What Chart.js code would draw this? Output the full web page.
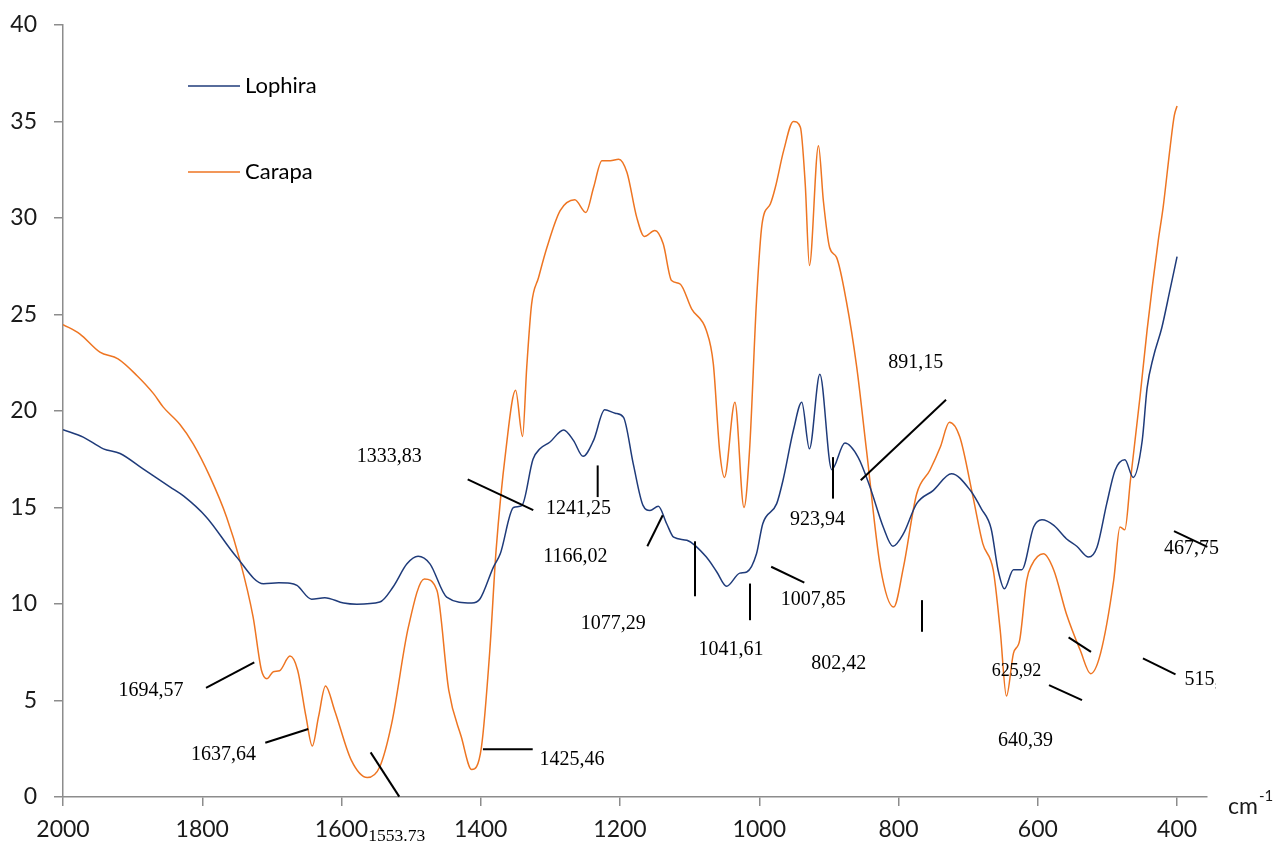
<!DOCTYPE html>
<html>
<head>
<meta charset="utf-8">
<script src="https://cdn.jsdelivr.net/npm/chart.js@4"></script>
<style>
html,body{margin:0;padding:0;background:#fff;}
#wrap{width:1279px;height:843px;}
</style>
</head>
<body>
<div id="wrap"><canvas id="c" width="1279" height="843"></canvas></div>
<script>
// ---- data (wavenumber in cm-1, values) ----
const seriesNames = ['Lophira', 'Carapa'];

const lophiraWn = [2000,1971,1942,1918,1885,1846,1827,1794,1751,1712,1690,1674,1664,1643,1624,1597,1578,1545,1526,1506,1490,1473,1449,1413,1401,1382,1372,1353,1341,1325,1315,1301,1281,1267,1253,1238,1222,1207,1195,1181,1167,1157,1145,1133,1123,1104,1076,1061,1047,1028,1018,1004,995,975,966,951,939,928,913,896,877,858,841,822,808,793,774,750,724,697,681,667,657,648,635,623,606,594,577,559,544,527,515,501,489,475,463,450,443,434,422,410,400];
const lophiraVal = [19.03,18.65,18.04,17.8,17.0,16.06,15.6,14.5,12.45,11.05,11.1,11.08,10.96,10.25,10.33,10.05,9.99,10.1,10.88,12.08,12.47,12.08,10.36,10.05,10.27,11.9,12.6,15.0,15.1,17.5,18.04,18.38,19.02,18.48,17.65,18.48,20.06,19.88,19.67,17.26,15.11,14.85,15.06,14.16,13.46,13.3,12.43,11.66,10.92,11.6,11.66,12.6,14.16,15.2,16.4,19.0,20.45,18.04,21.9,16.96,18.34,17.6,16.06,13.99,12.99,13.64,15.2,15.89,16.75,15.89,14.93,13.9,11.75,10.79,11.78,11.78,13.99,14.36,14.07,13.38,12.99,12.43,12.94,15.2,16.93,17.47,16.56,18.48,21.2,22.8,24.3,26.3,28.0];

const carapaWn = [2000,1976,1947,1921,1894,1870,1856,1832,1813,1789,1765,1746,1727,1715,1707,1698,1689,1674,1663,1651,1642,1633,1623,1610,1586,1563,1545,1528,1504,1481,1463,1446,1428,1413,1399,1387,1378,1364,1350,1340,1334,1327,1317,1305,1286,1265,1249,1238,1226,1214,1202,1190,1176,1165,1150,1138,1126,1114,1097,1076,1066,1057,1050,1035,1022,1014,1004,996,984,977,965,951,941,934,928,915,908,899,889,875,860,846,826,807,793,774,755,740,727,712,693,679,664,654,645,635,626,616,609,592,577,559,539,524,510,491,482,475,467,453,443,427,420,410,404,400];
const carapaVal = [24.48,24.0,23.05,22.7,21.84,20.9,20.2,19.3,18.3,16.6,14.5,12.27,9.33,6.57,6.13,6.49,6.54,7.3,6.57,4.16,2.64,4.16,5.75,4.5,1.91,1.01,1.57,3.8,8.8,11.3,10.71,5.54,3.12,1.42,2.6,7.6,12.78,17.96,21.07,18.68,22.26,25.54,26.92,28.47,30.38,30.95,30.29,31.58,32.97,32.97,33.05,32.36,30.03,29.04,29.35,28.66,26.76,26.59,25.28,24.17,22.44,17.96,16.56,20.45,15.0,17.96,25.7,29.7,30.74,31.58,33.49,35.0,34.7,31.75,27.54,33.75,30.9,28.47,27.96,25.7,22.26,17.96,11.9,9.84,11.9,15.7,16.93,18.13,19.42,18.65,15.54,13.13,11.75,8.64,5.23,7.44,8.13,11.23,12.0,12.6,11.75,9.5,7.6,6.39,7.43,11.23,13.99,13.85,16.4,20.8,24.2,28.83,30.55,33.65,35.3,35.8];

const xTickValues = [2000,1800,1600,1400,1200,1000,800,600,400];
const yTickStep = 5;

// peak annotations (text, anchor in data units: wavenumber, value)
const peakLabels = ['1333,83','1241,25','1166,02','1077,29','1041,61','1007,85','923,94','891,15','802,42','625,92','640,39','515,','467,75','1694,57','1637,64','1425,46','1553.73'];
const peakLabelWn = [1578.2,1306.3,1310.2,1256.5,1087.4,969.1,955.9,814.7,925.2,666.1,657.2,389.3,418.7,1920.4,1816.2,1315.5,1561.5];
const peakLabelVal = [17.61,14.92,12.44,8.99,7.61,10.2,14.34,22.5,6.92,6.54,2.90,6.06,12.87,5.50,2.19,1.95,-2.02];
// leader lines (from wn1,val1 to wn2,val2)
const leaderWn1 = [1418.8,1232.1,1160.8,1092.3,1013.3,982.9,894.1,854.3,766.3,555.8,583.9,449.0,404.4,1794.6,1709.5,1396.9,1558.2];
const leaderVal1 = [16.46,17.18,12.99,13.25,11.06,11.93,17.61,16.41,10.2,8.27,5.80,7.18,13.78,5.66,2.81,2.47,2.31];
const leaderWn2 = [1324.6,1232.1,1138.7,1092.3,1013.3,935.3,894.1,731.8,766.3,523.6,536.5,402.2,356.5,1725.3,1647.8,1325.4,1517.1];
const leaderVal2 = [14.86,15.54,14.6,10.40,9.16,11.11,15.46,20.58,8.56,7.52,5.02,6.35,12.96,6.97,3.52,2.47,0.02];

// ---- styling ----
const colors = ['#1f3b7a', '#ee7522'];
const axisGray = '#8c8c8c';

const annotPlugin = {
  id: 'annot',
  afterDatasetsDraw(chart) {
    const {ctx, chartArea, scales} = chart;
    const xs = scales.x, ys = scales.y;
    ctx.save();
    // leaders
    ctx.strokeStyle = '#000';
    ctx.lineWidth = 2;
    for (let i = 0; i < leaderWn1.length; i++) {
      ctx.beginPath();
      ctx.moveTo(xs.getPixelForValue(leaderWn1[i]), ys.getPixelForValue(leaderVal1[i]));
      ctx.lineTo(xs.getPixelForValue(leaderWn2[i]), ys.getPixelForValue(leaderVal2[i]));
      ctx.stroke();
    }
    // labels
    ctx.fillStyle = '#000';
    ctx.textAlign = 'left';
    ctx.textBaseline = 'middle';
    for (let i = 0; i < peakLabels.length; i++) {
      const t = peakLabels[i];
      let size = 20;
      if (t === '625,92') size = 18;
      if (t === '1553.73') size = 17.5;
      ctx.font = size + 'px "Liberation Serif", "Times New Roman", serif';
      const px = xs.getPixelForValue(peakLabelWn[i]);
      const py = ys.getPixelForValue(peakLabelVal[i]);
      if (t === '515,') {
        ctx.save();
        ctx.beginPath();
        ctx.rect(px - 5, py - 20, (chartArea.right + 9) - (px - 5), 40);
        ctx.clip();
        ctx.fillText(t, px, py);
        ctx.restore();
      } else {
        ctx.fillText(t, px, py);
      }
    }
    // legend
    ctx.font = '22px Lato, "Open Sans", sans-serif';
    ctx.textBaseline = 'middle';
    const legX = chartArea.left + 125;
    const legYs = [chartArea.top + 61, chartArea.top + 147];
    for (let i = 0; i < seriesNames.length; i++) {
      ctx.strokeStyle = colors[i];
      ctx.lineWidth = 1.5;
      ctx.beginPath();
      ctx.moveTo(legX, legYs[i]);
      ctx.lineTo(legX + 52, legYs[i]);
      ctx.stroke();
      ctx.fillStyle = '#000';
      ctx.fillText(seriesNames[i], legX + 57, legYs[i]);
    }
    // axis unit
    ctx.font = '23px Lato, "Open Sans", sans-serif';
    ctx.fillStyle = '#1a1a1a';
    const ux = chartArea.right + 21;
    const uy = chartArea.bottom + 10;
    ctx.fillText('cm', ux, uy);
    const w = ctx.measureText('cm').width;
    ctx.font = '15px Lato, "Open Sans", sans-serif';
    ctx.fillText('-1', ux + w + 1, uy - 11);
    ctx.restore();
  }
};

const ctx = document.getElementById('c').getContext('2d');
new Chart(ctx, {
  type: 'scatter',
  data: {
    datasets: [
      {
        label: seriesNames[0],
        data: lophiraWn.map((w, i) => ({x: w, y: lophiraVal[i]})),
        showLine: true,
        borderColor: colors[0],
        backgroundColor: colors[0],
        borderWidth: 1.5,
        pointRadius: 0,
        cubicInterpolationMode: 'monotone'
      },
      {
        label: seriesNames[1],
        data: carapaWn.map((w, i) => ({x: w, y: carapaVal[i]})),
        showLine: true,
        borderColor: colors[1],
        backgroundColor: colors[1],
        borderWidth: 1.5,
        pointRadius: 0,
        cubicInterpolationMode: 'monotone'
      }
    ]
  },
  options: {
    responsive: false,
    animation: false,
    devicePixelRatio: 1,
    layout: {padding: {top: 25, right: 72, bottom: 0, left: 0}},
    plugins: {legend: {display: false}, tooltip: {enabled: false}},
    scales: {
      x: {
        type: 'linear',
        reverse: true,
        min: 357,
        max: 2000,
        afterBuildTicks: s => { s.ticks = xTickValues.map(v => ({value: v})); },
        afterFit: s => { s.height = 46; s.paddingLeft = 0; s.paddingRight = 0; },
        grid: {drawOnChartArea: false, drawTicks: true, tickLength: 9, color: axisGray, lineWidth: 1.5},
        border: {color: axisGray, width: 1.5},
        ticks: {font: {family: 'Lato', size: 23}, color: '#1a1a1a', padding: 10, maxRotation: 0, autoSkip: false,
                callback: v => String(v)}
      },
      y: {
        min: 0,
        max: 40,
        afterFit: s => { s.width = 63; s.paddingTop = 0; s.paddingBottom = 0; },
        grid: {drawOnChartArea: false, drawTicks: true, tickLength: 9, color: axisGray, lineWidth: 1.5},
        border: {color: axisGray, width: 1.5},
        ticks: {stepSize: yTickStep, font: {family: 'Lato', size: 23}, color: '#1a1a1a', padding: 17}
      }
    }
  },
  plugins: [annotPlugin]
});
</script>
</body>
</html>
